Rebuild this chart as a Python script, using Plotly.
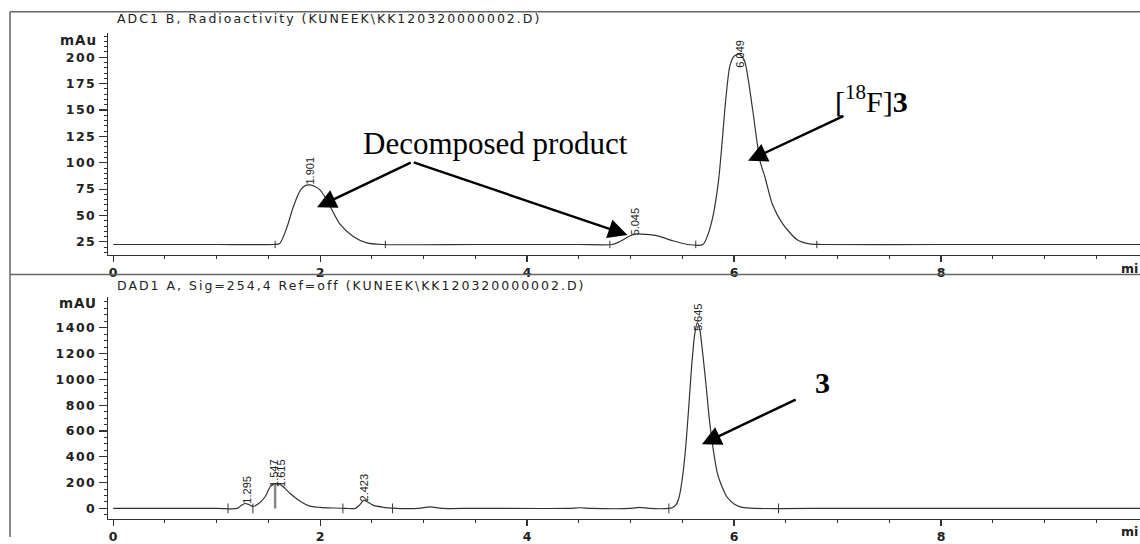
import plotly.graph_objects as go

W, H = 1140, 544

# ---------------- data ----------------
# ADC1 B, radioactivity trace
rad_time = [0.0, 1.0, 1.55, 1.61, 1.68, 1.74, 1.81, 1.86, 1.90, 1.95, 2.00, 2.05,
            2.10, 2.19, 2.32, 2.45, 2.60, 3.5, 4.5, 4.82, 4.88, 4.93, 4.98, 5.06,
            5.15, 5.26, 5.41, 5.55, 5.70, 5.75, 5.80, 5.85, 5.88, 5.92, 5.96, 6.00,
            6.05, 6.10, 6.18, 6.25, 6.30, 6.37, 6.47, 6.61, 6.73, 6.85, 8.0, 9.0, 9.95]
rad_mAu = [22.5, 22.5, 22.5, 23.5, 39, 58, 74, 78.5, 79, 77.5, 74, 67,
           58, 42, 30, 24, 22.5, 22.5, 22.5, 22.5, 24.5, 27, 30, 32.5,
           32, 30.6, 26, 22.5, 22.5, 32.5, 51, 83, 114, 160, 192, 201,
           203, 197, 150, 102, 86, 60.6, 42, 27, 23, 22.5, 22.5, 22.5, 22.5]

# DAD1 A, UV 254 nm trace
uv_time = [0.0, 1.0, 1.20, 1.24, 1.275, 1.31, 1.35, 1.41, 1.47, 1.52, 1.57, 1.61,
           1.66, 1.71, 1.81, 1.90, 2.00, 2.13, 2.25, 2.34, 2.38, 2.42, 2.46, 2.51,
           2.60, 2.70, 2.95, 3.06, 3.18, 3.5, 4.4, 4.51, 4.62, 5.0, 5.09, 5.18,
           5.37, 5.40, 5.44, 5.47, 5.50, 5.53, 5.56, 5.59, 5.62, 5.645, 5.67, 5.70,
           5.73, 5.76, 5.80, 5.84, 5.88, 5.93, 6.00, 6.08, 6.20, 7.0, 8.0, 9.0, 9.95]
uv_mAU = [0, 0, 0, 25, 38, 30, 15, 40, 92, 170, 192, 188,
          155, 115, 54, 18, 8, 3, 0, 0, 25, 62, 50, 25,
          10, 2, 0, 12, 0, 0, 0, 5, 0, 0, 8, 0,
          0, 5, 30, 90, 230, 450, 760, 1100, 1350, 1440, 1380, 1180,
          950, 700, 450, 270, 175, 90, 35, 8, 0, 0, 0, 0, 0]

rad_peak_times = [1.901, 5.045, 6.049]
rad_peak_labels = ["1.901", "5.045", "6.049"]
rad_label_base = [84, 36, 195]

uv_peak_times = [1.295, 1.547, 1.615, 2.423, 5.645]
uv_peak_labels = ["1.295", "1.547", "1.615", "2.423", "5.645"]
uv_label_base = [77, 207, 207, 92, 1415]

rad_marks = [1.565, 2.63, 4.80, 5.63, 6.80]
uv_marks = [1.11, 1.35, 2.22, 2.70, 5.37, 6.43]
uv_drop_time = [1.565]
uv_drop_top = [190]

x_ticks = [0, 2, 4, 6, 8]
rad_y_ticks = [25, 50, 75, 100, 125, 150, 175, 200]
uv_y_ticks = [0, 200, 400, 600, 800, 1000, 1200, 1400]

rad_title = "ADC1 B, Radioactivity (KUNEEK\\KK120320000002.D)"
uv_title = "DAD1 A, Sig=254,4 Ref=off (KUNEEK\\KK120320000002.D)"

# ---------------- figure ----------------
LINE = "#333333"
fig = go.Figure()

fig.add_trace(go.Scatter(x=rad_time, y=rad_mAu, mode="lines",
                         line=dict(color=LINE, width=1.2, shape="spline", smoothing=0.7),
                         xaxis="x", yaxis="y", hoverinfo="skip"))
fig.add_trace(go.Scatter(x=uv_time, y=uv_mAU, mode="lines",
                         line=dict(color=LINE, width=1.2, shape="spline", smoothing=0.7),
                         xaxis="x2", yaxis="y2", hoverinfo="skip"))

# integration markers on the baselines
mx, my = [], []
for t in rad_marks:
    mx += [t, t, None]
    my += [19, 26, None]
fig.add_trace(go.Scatter(x=mx, y=my, mode="lines", line=dict(color=LINE, width=1),
                         xaxis="x", yaxis="y", hoverinfo="skip"))
mx, my = [], []
for t in uv_marks:
    mx += [t, t, None]
    my += [-38, 38, None]
fig.add_trace(go.Scatter(x=mx, y=my, mode="lines", line=dict(color=LINE, width=1),
                         xaxis="x2", yaxis="y2", hoverinfo="skip"))
dx, dy = [], []
for t, top in zip(uv_drop_time, uv_drop_top):
    dx += [t, t, None]
    dy += [0, top, None]
fig.add_trace(go.Scatter(x=dx, y=dy, mode="lines", line=dict(color="#888888", width=2.5),
                         xaxis="x2", yaxis="y2", hoverinfo="skip"))

tickfont = dict(family="DejaVu Sans", size=12.5, color="#222222", weight="bold")


def ytext(v):
    return '<span style="letter-spacing:1.5px">%d</span>' % v


xcommon = dict(range=[-0.05, 9.923], tickmode="array", tickvals=x_ticks,
               ticktext=[str(v) for v in x_ticks],
               showgrid=False, zeroline=False, showline=True, linecolor=LINE, linewidth=1.2,
               ticks="outside", ticklen=6, tickwidth=1.2, tickcolor=LINE, tickfont=tickfont,
               minor=dict(tickmode="linear", tick0=0, dtick=0.5, ticks="outside", ticklen=3,
                          tickcolor=LINE, tickwidth=1),
               domain=[108 / W, 1], fixedrange=True)
ycommon = dict(showgrid=False, zeroline=False, showline=True, linecolor=LINE, linewidth=1.2,
               ticks="outside", ticklen=8, tickwidth=1.2, tickcolor=LINE, tickfont=tickfont,
               tickmode="array", fixedrange=True)

fig.update_layout(
    width=W, height=H, autosize=False,
    margin=dict(l=0, r=0, t=0, b=0),
    paper_bgcolor="white", plot_bgcolor="white", showlegend=False,
    xaxis=dict(xcommon, anchor="y"),
    xaxis2=dict(xcommon, anchor="y2"),
    yaxis=dict(ycommon, anchor="x", domain=[1 - 258 / H, 1 - 33 / H], range=[12.83, 223.4],
               tickvals=rad_y_ticks, ticktext=[ytext(v) for v in rad_y_ticks],
               minor=dict(tickmode="linear", tick0=0, dtick=5, ticks="outside", ticklen=3,
                          tickcolor=LINE, tickwidth=1)),
    yaxis2=dict(ycommon, anchor="x2", domain=[1 - 526 / H, 1 - 301 / H], range=[-84, 1637],
                tickvals=uv_y_ticks, ticktext=[ytext(v) for v in uv_y_ticks],
                minor=dict(tickmode="linear", tick0=0, dtick=50, ticks="outside", ticklen=3,
                           tickcolor=LINE, tickwidth=1)),
)

# frame lines
frame = dict(color="#666666", width=1.5)
shapes = [
    dict(type="line", xref="paper", yref="paper", x0=10 / W, x1=1, y0=1 - 12 / H, y1=1 - 12 / H, line=frame),
    dict(type="line", xref="paper", yref="paper", x0=10 / W, x1=10 / W, y0=0, y1=1 - 12 / H, line=frame),
    dict(type="line", xref="paper", yref="paper", x0=10 / W, x1=1, y0=1 - 278 / H, y1=1 - 278 / H, line=frame),
]
fig.update_layout(shapes=shapes)

ann = []
small = dict(family="DejaVu Sans", size=12.5, color="#222222")
ann.append(dict(text='<span style="letter-spacing:2px">%s</span>' % rad_title, xref="paper", yref="paper",
                x=115 / W, y=1 - 19 / H, xanchor="left", yanchor="middle", showarrow=False, font=small))
ann.append(dict(text='<span style="letter-spacing:2px">%s</span>' % uv_title, xref="paper", yref="paper",
                x=115 / W, y=1 - 289 / H, xanchor="left", yanchor="middle", showarrow=False, font=small))
unitfont = dict(family="DejaVu Sans", size=13.5, color="#222222", weight="bold")
ann.append(dict(text='<span style="letter-spacing:1px">mAu</span>', xref="paper", yref="paper",
                x=99 / W, y=1 - 41 / H, xanchor="right", yanchor="middle", showarrow=False, font=unitfont))
ann.append(dict(text='<span style="letter-spacing:1px">mAU</span>', xref="paper", yref="paper",
                x=99 / W, y=1 - 307 / H, xanchor="right", yanchor="middle", showarrow=False, font=unitfont))
ann.append(dict(text="mi", xref="paper", yref="paper", x=1, y=1 - 272 / H,
                xanchor="right", yanchor="middle", showarrow=False, font=tickfont))
ann.append(dict(text="mi", xref="paper", yref="paper", x=1, y=1 - 538 / H,
                xanchor="right", yanchor="middle", showarrow=False, font=tickfont))

# peak retention-time labels
lab = dict(family="Liberation Sans", size=11, color="#222222")
for t, s, b in zip(rad_peak_times, rad_peak_labels, rad_label_base):
    ann.append(dict(text=s, x=t, y=b, xref="x", yref="y", textangle=-90, showarrow=False,
                    xanchor="center", yanchor="bottom", yshift=-7, font=lab))
for t, s, b in zip(uv_peak_times, uv_peak_labels, uv_label_base):
    ann.append(dict(text=s, x=t, y=b, xref="x2", yref="y2", textangle=-90, showarrow=False,
                    xanchor="center", yanchor="bottom", yshift=-7, font=lab))

# callouts
serif = dict(family="Liberation Serif", size=31, color="black")
arrow = dict(showarrow=True, arrowhead=2, arrowsize=1.6, arrowwidth=2.4, arrowcolor="black", text="")
ann.append(dict(text="Decomposed product", x=3.69, y=118.6, xref="x", yref="y", showarrow=False,
                xanchor="center", yanchor="middle", font=serif))
ann.append(dict(arrow, x=1.97, y=57.8, ax=2.89, ay=100.8, xref="x", yref="y", axref="x", ayref="y"))
ann.append(dict(arrow, x=4.97, y=31.5, ax=2.89, ay=100.8, xref="x", yref="y", axref="x", ayref="y"))
ann.append(dict(text="[<sup>18</sup>F]<b>3</b>", x=7.33, y=160.8, xref="x", yref="y", showarrow=False,
                xanchor="center", yanchor="middle", font=dict(serif, size=30)))
ann.append(dict(arrow, x=6.135, y=101.8, ax=7.07, ay=144.8, xref="x", yref="y", axref="x", ayref="y"))
ann.append(dict(text="<b>3</b>", x=6.85, y=979, xref="x2", yref="y2", showarrow=False,
                xanchor="center", yanchor="middle", font=dict(serif, size=30)))
ann.append(dict(arrow, x=5.69, y=497, ax=6.61, ay=849, xref="x2", yref="y2", axref="x2", ayref="y2"))

fig.update_layout(annotations=ann)

fig.write_html("out.html", include_plotlyjs=True, config={"staticPlot": True},
               post_script="document.body.style.margin='0px';document.body.style.overflow='hidden';")
